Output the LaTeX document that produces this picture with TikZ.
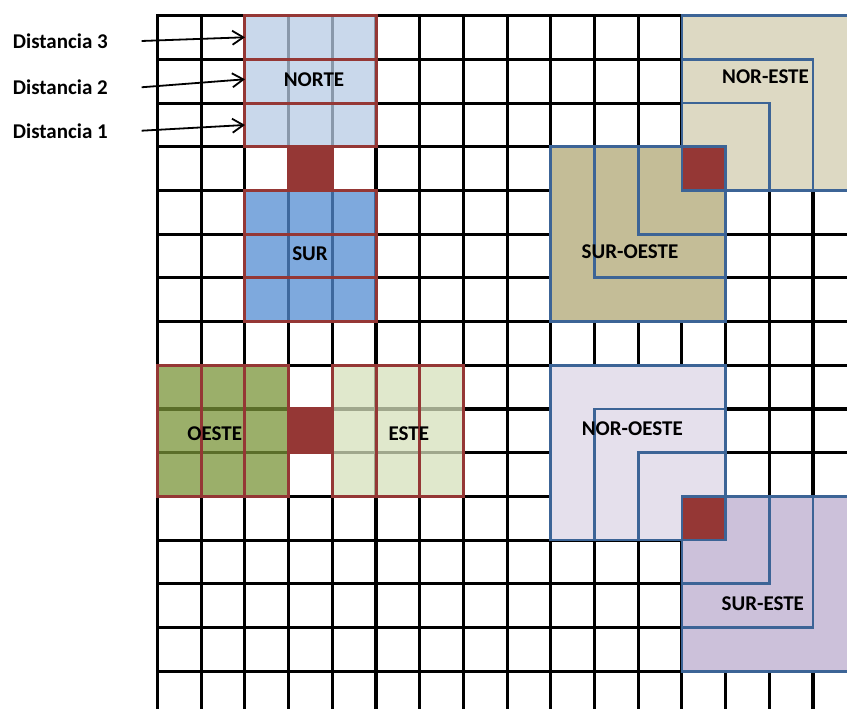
\documentclass[tikz,border=0pt]{standalone}
\usepackage{fontspec}
\setmainfont{Carlito}
\usetikzlibrary{arrows.meta}
\definecolor{myred}{RGB}{149,55,53}
\definecolor{myblue}{RGB}{60,100,150}
\definecolor{nortefill}{RGB}{183,203,228}
\definecolor{surfill}{RGB}{83,140,210}
\definecolor{oestefill}{RGB}{122,148,56}
\definecolor{estefill}{RGB}{214,224,187}
\definecolor{nefill}{RGB}{221,217,195}
\definecolor{sofill}{RGB}{196,189,151}
\definecolor{nofill}{RGB}{229,224,236}
\definecolor{sefill}{RGB}{204,193,218}
\begin{document}
\begin{tikzpicture}[x=43.7pt,y=-43.7pt,
  gridline/.style={line width=3.1pt,black,line cap=rect},
  tint/.style={fill=#1,fill opacity=0.75,draw=none},
  strip/.style={draw=myred,line width=3pt},
  centre/.style={fill=myred,draw=myred,line width=3pt},
  sq/.style={fill=#1,draw=myblue,line width=2.8pt},
  centreb/.style={fill=myred,draw=myblue,line width=2.8pt},
  lbl/.style={font=\fontsize{21}{25}\selectfont\bfseries,inner sep=0pt},
  arr/.style={line width=1.8pt,-{Straight Barb[length=11pt,width=14pt,line width=1.8pt]}}]
\useasboundingbox (-3.604,-0.359) rectangle (15.778,15.865);
\begin{scope}
\clip (-3.604,-0.359) rectangle (15.778,15.865);
% grid
\foreach \r in {0,...,15} \draw[gridline] (0,\r) -- (16,\r);
\foreach \c in {0,...,15} \draw[gridline] (\c,0) -- (\c,16.5);
% NORTE
\fill[tint=nortefill] (2,0) rectangle (5,3);
\foreach \r in {0,1,2} \draw[strip] (2,\r) rectangle (5,\r+1);
% SUR
\fill[tint=surfill] (2,4) rectangle (5,7);
\foreach \r in {4,5,6} \draw[strip] (2,\r) rectangle (5,\r+1);
\draw[centre] (3,3) rectangle (4,4);
% OESTE
\fill[tint=oestefill] (0,8) rectangle (3,11);
\foreach \c in {0,1,2} \draw[strip] (\c,8) rectangle (\c+1,11);
% ESTE
\fill[tint=estefill] (4,8) rectangle (7,11);
\foreach \c in {4,5,6} \draw[strip] (\c,8) rectangle (\c+1,11);
\draw[centre] (3,9) rectangle (4,10);
% NOR-ESTE
\draw[sq=nefill] (12,0) rectangle (16,4);
\draw[sq=nefill] (12,1) rectangle (15,4);
\draw[sq=nefill] (12,2) rectangle (14,4);
% SUR-OESTE
\draw[sq=sofill] (9,3) rectangle (13,7);
\draw[sq=sofill] (10,3) rectangle (13,6);
\draw[sq=sofill] (11,3) rectangle (13,5);
\draw[centreb] (12,3) rectangle (13,4);
% NOR-OESTE
\draw[sq=nofill] (9,8) rectangle (13,12);
\draw[sq=nofill] (10,9) rectangle (13,12);
\draw[sq=nofill] (11,10) rectangle (13,12);
% SUR-ESTE
\draw[sq=sefill] (12,11) rectangle (16,15);
\draw[sq=sefill] (12,11) rectangle (15,14);
\draw[sq=sefill] (12,11) rectangle (14,13);
\draw[centreb] (12,11) rectangle (13,12);
\end{scope}
% labels
\node[lbl] (norte) at (3.581,1.471) {NORTE};
\node[lbl] (sur) at (3.490,5.453) {SUR};
\node[lbl] (oeste) at (1.309,9.572) {OESTE};
\node[lbl] (este) at (5.751,9.572) {ESTE};
\node[lbl] (ne) at (13.913,1.403) {NOR-ESTE};
\node[lbl] (so) at (10.812,5.400) {SUR-OESTE};
\node[lbl] (no) at (10.865,9.442) {NOR-OESTE};
\node[lbl] (se) at (13.851,13.462) {SUR-ESTE};
\node[lbl,anchor=west] (d3) at (-3.314,0.595) {Distancia 3};
\node[lbl,anchor=west] (d2) at (-3.314,1.638) {Distancia 2};
\node[lbl,anchor=west] (d1) at (-3.314,2.638) {Distancia 1};
% arrows
\coordinate (d3s) at (-0.362,0.579);
\coordinate (d3e) at (2.002,0.494);
\coordinate (d2s) at (-0.362,1.638);
\coordinate (d2e) at (2.002,1.455);
\coordinate (d1s) at (-0.362,2.632);
\coordinate (d1e) at (2.002,2.501);
\draw[arr] (d3s) -- (d3e);
\draw[arr] (d2s) -- (d2e);
\draw[arr] (d1s) -- (d1e);
\end{tikzpicture}
\end{document}
